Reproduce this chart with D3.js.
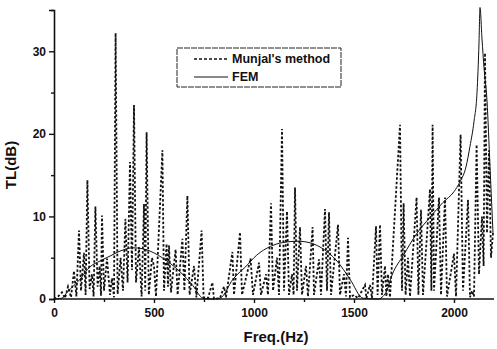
<!DOCTYPE html>
<html>
<head>
<meta charset="utf-8">
<script src="https://cdnjs.cloudflare.com/ajax/libs/d3/7.8.5/d3.min.js"></script>
<style>
  body { margin: 0; background: #fff; }
  text { font-family: "Liberation Sans", Arial, sans-serif; font-weight: bold; fill: #111; }
</style>
</head>
<body>
<script>
// Munjal's method (dashed), Hz / dB
let munjalFreq = [0, 20, 40, 55, 70, 85, 100, 112, 125, 135, 150, 158, 167, 178, 190, 198, 207, 218, 228, 235,
    240, 250, 265, 280, 290, 300, 308, 318, 333, 345, 357, 368, 380, 390, 400, 410, 425, 438, 450, 456,
    463, 474, 490, 500, 510, 542, 550, 563, 570, 575, 585, 608, 618, 642, 652, 667, 678, 700, 712, 738,
    748, 770, 792, 800, 830, 850, 860, 892, 900, 930, 940, 983, 995, 1025, 1035, 1060, 1070, 1085, 1095, 1115,
    1125, 1140, 1150, 1165, 1175, 1190, 1198, 1205, 1215, 1230, 1240, 1260, 1270, 1293, 1300, 1325, 1335, 1355, 1365, 1375,
    1385, 1420, 1430, 1450, 1460, 1470, 1480, 1500, 1520, 1555, 1562, 1580, 1590, 1610, 1618, 1630, 1640, 1655, 1662, 1670,
    1680, 1730, 1740, 1748, 1758, 1770, 1780, 1813, 1822, 1835, 1845, 1880, 1887, 1893, 1900, 1925, 1935, 1955, 1965, 2000,
    2010, 2033, 2045, 2070, 2080, 2090, 2100, 2113, 2125, 2140, 2148, 2155, 2165, 2175, 2185, 2195];
let munjalTL = [0, 0.3, 0.8, 0.1, 1.5, 0.2, 3.4, 0.3, 8.3, 1.0, 5.6, 0.5, 14.4, 1.2, 3, 0.3, 11.2, 1.5, 4, 0.4,
    10.1, 1.0, 4.9, 0.5, 2.5, 0.2, 32.2, 0.6, 5, 1.0, 9.7, 2.0, 16.6, 3.5, 23.5, 2.0, 6.3, 0.3, 11.5, 1.0,
    20.2, 0.5, 5, 4, 0.3, 18.0, 1.0, 6.7, 1.5, 6.5, 0.8, 6, 0.5, 7.3, 1.0, 12.5, 0.5, 4, 0.2, 8.3,
    0.2, 0.1, 2, 0, 0.1, 1.5, 0.2, 5.7, 0.5, 8.1, 0.5, 4.9, 0.5, 4.4, 0.5, 3, 0.5, 11.6, 1, 5,
    0.5, 20.6, 1, 10.6, 0.5, 3, 0.5, 13.5, 1, 8.7, 0.5, 4, 0.3, 8.7, 0.5, 4.8, 0.5, 10.9, 1, 10.5,
    0.5, 9, 0.5, 3, 0.3, 7.4, 0.2, 0.5, 0.1, 1.7, 0.1, 1.7, 0.1, 8.8, 0.5, 9, 0.5, 4, 0.3, 3,
    0.2, 21.1, 1, 11.6, 0.5, 5, 0.3, 12.3, 0.5, 10.8, 0.5, 13.3, 1, 21.1, 1, 12.3, 0.5, 12.3, 0.3, 5.5,
    0.3, 19.9, 1, 12, 0.2, 1, 0.3, 18.7, 3, 10, 4, 29.8, 8, 18, 5, 8];

// FEM (solid)
let femFreq = [0, 40, 65, 130, 180, 230, 280, 330, 395, 440, 480, 565, 630, 695, 745, 790, 830, 895, 970, 1000,
    1095, 1160, 1220, 1280, 1330, 1415, 1480, 1545, 1620, 1660, 1690, 1747, 1813, 1880, 1945, 2000, 2030, 2060, 2080, 2100,
    2115, 2125, 2130, 2140, 2150, 2165, 2180, 2195];
let femTL = [0, 0.1, 0.8, 2.4, 3.9, 4.6, 5.2, 5.8, 6.2, 6.1, 5.8, 4.6, 3.3, 1.6, 0.1, 0, 0.1, 2.4, 4.2, 5.0,
    6.5, 6.9, 7.0, 6.8, 6.3, 4.6, 2.4, 0.1, 0, 0.8, 2.9, 5.3, 7.9, 9.9, 11.7, 13, 14.2, 16, 18.5, 21.5,
    25, 31, 35.3, 31.5, 28, 24, 16, 8];

let xMajor = [0, 500, 1000, 1500, 2000];
let xMinor = [250, 750, 1250, 1750];
let yMajor = [0, 10, 20, 30];
let yMinor = [5, 15, 25, 35];

let legendLabels = ["Munjal's method", "FEM"];

let margin = {top: 10, right: 3, bottom: 50, left: 54},
    width = 497 - margin.left - margin.right,
    height = 349 - margin.top - margin.bottom;

let svg = d3.select("body")
    .append("svg")
        .attr("width", 497)
        .attr("height", 349)
        .style("background-color", "#fff")
    .append("g")
        .attr("transform", "translate(" + margin.left + "," + margin.top + ")");

let x = d3.scaleLinear()
    .domain([0, 2200])
    .range([0, 440]);

let y = d3.scaleLinear()
    .domain([0, 35])
    .range([height, 0]);

// x axis, major + minor ticks
let xAxis = svg.append("g")
    .attr("transform", "translate(0," + height + ")")
    .call(d3.axisBottom(x).tickValues(xMajor).tickSize(4).tickPadding(5).tickFormat(d3.format("d")));
svg.append("g")
    .attr("transform", "translate(0," + height + ")")
    .call(d3.axisBottom(x).tickValues(xMinor).tickSize(3).tickFormat(""))
    .select(".domain").remove();
xAxis.select(".domain").attr("d", "M0,0H" + width);

let yAxis = svg.append("g")
    .call(d3.axisLeft(y).tickValues(yMajor).tickSize(5).tickPadding(3));
svg.append("g")
    .call(d3.axisLeft(y).tickValues(yMinor).tickSize(3).tickFormat(""))
    .select(".domain").remove();

svg.selectAll(".domain").attr("stroke-width", 1.6).attr("stroke", "#111");
svg.selectAll(".tick line").attr("stroke-width", 1.4).attr("stroke", "#111");
svg.selectAll(".tick text")
    .style("font-size", "12px")
    .style("font-weight", "bold")
    .style("font-family", "Liberation Sans, Arial, sans-serif")
    .attr("fill", "#111");

// axis titles
svg.append("text")
    .text("Freq.(Hz)")
    .attr("x", 222)
    .attr("y", height + 43)
    .attr("text-anchor", "middle")
    .style("font-size", "15px");

svg.append("text")
    .text("TL(dB)")
    .attr("transform", "translate(" + (-38) + "," + 155 + ") rotate(-90)")
    .attr("text-anchor", "middle")
    .style("font-size", "15px");

// lines
let munjal = munjalFreq.map(function(f, i) { return [f, munjalTL[i]]; });
let fem = femFreq.map(function(f, i) { return [f, femTL[i]]; });

let line = d3.line()
    .x(function(d) { return x(d[0]); })
    .y(function(d) { return y(d[1]); });

svg.append("path")
    .datum(munjal)
    .attr("d", line)
    .attr("fill", "none")
    .attr("stroke", "#111")
    .attr("stroke-width", 1.8)
    .attr("stroke-dasharray", "2.5,2");

svg.append("path")
    .datum(fem)
    .attr("d", line.curve(d3.curveMonotoneX))
    .attr("fill", "none")
    .attr("stroke", "#111")
    .attr("stroke-width", 1);

// legend
let legend = svg.append("g")
    .attr("transform", "translate(" + (177 - margin.left) + "," + (48 - margin.top) + ")");
legend.append("rect")
    .attr("width", 164)
    .attr("height", 39)
    .attr("fill", "#fff")
    .attr("stroke", "#222")
    .attr("stroke-width", 1)
    .attr("stroke-dasharray", "6,1");

legendLabels.forEach(function(lbl, i) {
    let yy = 11 + i * 18;
    legend.append("line")
        .attr("x1", 17).attr("x2", 51)
        .attr("y1", yy).attr("y2", yy)
        .attr("stroke", "#111")
        .attr("stroke-width", i == 0 ? 1.3 : 1)
        .attr("stroke-dasharray", i == 0 ? "3,2" : null);
    legend.append("text")
        .text(lbl)
        .attr("x", 55)
        .attr("y", yy + 4)
        .style("font-size", "12.5px");
});
</script>
</body>
</html>
